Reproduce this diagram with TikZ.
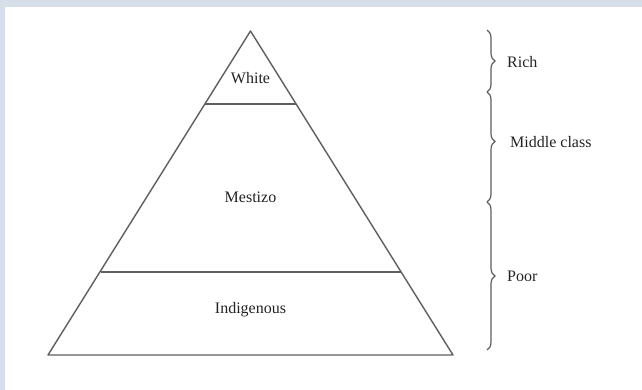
\documentclass[tikz,border=0pt]{standalone}
\usepackage{fontspec}
\setmainfont{Liberation Serif}
\usetikzlibrary{positioning, decorations.pathreplacing, calc}
\definecolor{FrameBlue}{RGB}{214, 222, 234}
\definecolor{LineGray}{RGB}{95, 95, 95}
\definecolor{TextGray}{RGB}{35, 35, 35}

\begin{document}
\begin{tikzpicture}[x=1pt, y=-1pt,
    label/.style={inner sep=0pt, text=TextGray, font=\fontsize{16}{19}\selectfont},
    classbrace/.style={decorate, decoration={brace, amplitude=8pt}, LineGray, line width=1.2pt}]
    % Frame
    \fill[FrameBlue] (0, 0) rectangle (642, 390);
    \fill[white] (5, 7) rectangle (642, 390);
    \useasboundingbox (0, 0) rectangle (642, 390);

    % Pyramid corners
    \coordinate (apex) at (250.5, 31);
    \coordinate (baseL) at (48, 355);
    \coordinate (baseR) at (453, 355);
    \coordinate (topL) at (205, 104);
    \coordinate (topR) at (296, 104);
    \coordinate (lowL) at (100.5, 272);
    \coordinate (lowR) at (400.5, 272);

    % Pyramid
    \draw[LineGray, line width=1.4pt, line join=round] (apex) -- (baseR) -- (baseL) -- cycle;
    \draw[LineGray, line width=1.4pt] (topL) -- (topR);
    \draw[LineGray, line width=1.4pt] (lowL) -- (lowR);

    % Layers
    \node[label] (white) at (250.5, 78) {White};
    \node[label] (mestizo) at (250.5, 197) {Mestizo};
    \node[label] (indigenous) at (250.5, 310) {Indigenous};

    % Braces
    \coordinate (b0) at (487, 30);
    \coordinate (b1) at (487, 92);
    \coordinate (b2) at (487, 202);
    \coordinate (b3) at (487, 350);
    \draw[classbrace] (b0) -- (b1);
    \draw[classbrace, decoration={aspect=0.45}] (b1) -- (b2);
    \draw[classbrace] (b2) -- (b3);

    % Classes
    \node[label, anchor=west] (rich) at (507, 62) {Rich};
    \node[label, anchor=west] (middle) at (510, 142) {Middle class};
    \node[label, anchor=west] (poor) at (507, 276) {Poor};
  \end{tikzpicture}
\end{document}
